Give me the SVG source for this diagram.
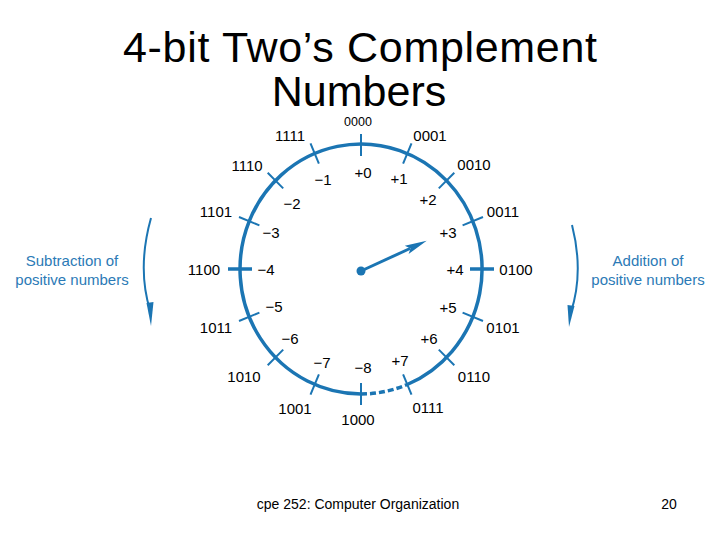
<svg xmlns="http://www.w3.org/2000/svg" width="720" height="540" viewBox="0 0 720 540">
<style>
.t{font-family:"Liberation Sans",Arial,sans-serif;fill:#000}
.title{font-size:43px;text-anchor:middle}
.bin{font-size:15px;text-anchor:middle}
.dec{font-size:15px;text-anchor:middle}
.side{font-family:"Liberation Sans",Arial,sans-serif;font-size:15px;fill:#2b7ab6;text-anchor:middle}
.foot{font-size:14px;text-anchor:middle}
.arc{fill:none;stroke:#1b75b3;stroke-width:3.5}
.tick{stroke:#1b75b3;stroke-width:2}
.tickb{stroke:#1b75b3;stroke-width:3.5}
.blue{fill:#1b75b3}
</style>
<rect width="720" height="540" fill="#fff"/>
<g id="title">
<text class="t title" x="360" y="62" textLength="474" lengthAdjust="spacing">4-bit Two’s Complement</text>
<text class="t title" x="359" y="106">Numbers</text>
</g>
<g id="wheel">
<path class="arc" d="M407.3,384.5 A121,125 0 1 0 361,394"/>
<path class="arc" d="M361,394 A121,125 0 0 0 407.3,384.5" stroke-dasharray="6,3"/>
<line class="tick" x1="361" y1="134" x2="361" y2="156"/>
<line class="tick" x1="411.5" y1="143.4" x2="403.1" y2="163.7"/>
<line class="tick" x1="454.3" y1="172.8" x2="438.8" y2="188.4"/>
<line class="tick" x1="483" y1="217" x2="462.6" y2="225.4"/>
<line class="tickb" x1="470" y1="269" x2="494" y2="269"/>
<line class="tick" x1="483" y1="321" x2="462.6" y2="312.6"/>
<line class="tick" x1="454.3" y1="365.2" x2="438.8" y2="349.6"/>
<line class="tick" x1="411.5" y1="394.6" x2="403.1" y2="374.3"/>
<line class="tick" x1="361" y1="405" x2="361" y2="383"/>
<line class="tick" x1="310.5" y1="394.6" x2="318.9" y2="374.3"/>
<line class="tick" x1="267.7" y1="365.2" x2="283.2" y2="349.6"/>
<line class="tick" x1="239" y1="321" x2="259.4" y2="312.6"/>
<line class="tickb" x1="228" y1="269" x2="252" y2="269"/>
<line class="tick" x1="239" y1="217" x2="259.4" y2="225.4"/>
<line class="tick" x1="267.7" y1="172.8" x2="283.2" y2="188.4"/>
<line class="tick" x1="310.5" y1="143.4" x2="318.9" y2="163.7"/>
</g>
<g id="hand">
<line x1="361" y1="271" x2="410" y2="248.5" stroke="#1b75b3" stroke-width="3"/>
<polygon class="blue" points="426.7,240.7 404.8,245.8 410.5,248.5 408.6,254"/>
<circle class="blue" cx="361" cy="271" r="4.5"/>
</g>
<g id="binary-labels">
<text class="t bin" x="358" y="126" style="font-size:12.5px">0000</text>
<text class="t bin" x="430" y="141">0001</text>
<text class="t bin" x="474" y="170">0010</text>
<text class="t bin" x="503" y="217">0011</text>
<text class="t bin" x="516" y="275">0100</text>
<text class="t bin" x="503" y="333">0101</text>
<text class="t bin" x="474" y="382">0110</text>
<text class="t bin" x="428" y="413">0111</text>
<text class="t bin" x="358" y="425">1000</text>
<text class="t bin" x="295" y="414">1001</text>
<text class="t bin" x="244" y="382">1010</text>
<text class="t bin" x="216" y="333">1011</text>
<text class="t bin" x="204" y="275">1100</text>
<text class="t bin" x="216" y="217">1101</text>
<text class="t bin" x="247" y="171">1110</text>
<text class="t bin" x="290" y="141">1111</text>
</g>
<g id="decimal-labels">
<text class="t dec" x="363" y="178">+0</text>
<text class="t dec" x="399" y="184">+1</text>
<text class="t dec" x="428" y="205">+2</text>
<text class="t dec" x="448" y="238">+3</text>
<text class="t dec" x="455" y="275">+4</text>
<text class="t dec" x="448" y="313">+5</text>
<text class="t dec" x="429" y="344">+6</text>
<text class="t dec" x="400" y="366">+7</text>
<text class="t dec" x="363" y="373">−8</text>
<text class="t dec" x="322" y="368">−7</text>
<text class="t dec" x="290" y="344">−6</text>
<text class="t dec" x="274" y="312">−5</text>
<text class="t dec" x="266" y="275">−4</text>
<text class="t dec" x="271" y="238">−3</text>
<text class="t dec" x="292" y="209">−2</text>
<text class="t dec" x="323" y="185">−1</text>
</g>
<g id="subtraction">
<text class="side" x="72" y="266">Subtraction of</text>
<text class="side" x="72" y="285">positive numbers</text>
<path d="M151,218 Q137,268 150,310" fill="none" stroke="#1b75b3" stroke-width="2"/>
<polygon class="blue" points="146.5,303 153.5,302 151,326"/>
</g>
<g id="addition">
<text class="side" x="648" y="266">Addition of</text>
<text class="side" x="648" y="285">positive numbers</text>
<path d="M572,225 Q584,272 571,312" fill="none" stroke="#1b75b3" stroke-width="2"/>
<polygon class="blue" points="567.5,305 574.5,306 569,327"/>
</g>
<g id="footer">
<text class="t foot" x="358" y="509">cpe 252: Computer Organization</text>
<text class="t foot" x="669" y="509">20</text>
</g>
</svg>
